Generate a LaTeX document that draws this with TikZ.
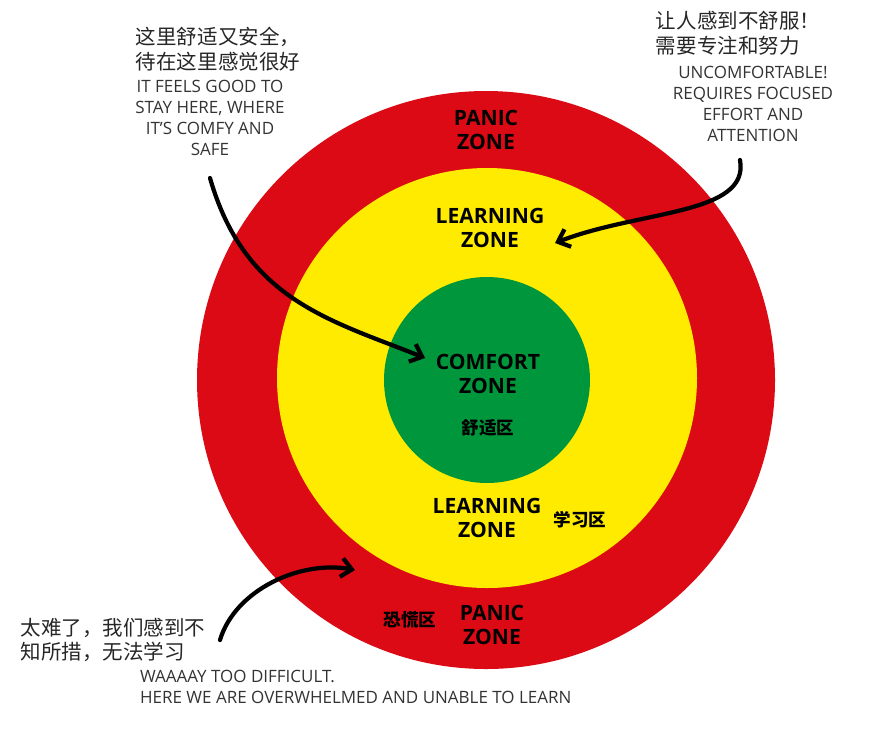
\documentclass[tikz,border=0pt]{standalone}
\usepackage{fontspec}
\setmainfont{Open Sans}
\newfontfamily\cjk{Noto Sans CJK SC}
\usetikzlibrary{arrows.meta}
\tikzset{>={Straight Barb[length=9pt,width=16pt]}}
\definecolor{panicred}{RGB}{220,10,20}
\definecolor{learnyellow}{RGB}{255,235,0}
\definecolor{comfortgreen}{RGB}{0,150,60}
\tikzset{
  zonelabel/.style={font=\fontsize{18}{20}\selectfont\bfseries,align=center,text=black},
  cjklabel/.style={font=\cjk\bfseries\fontsize{15}{17}\selectfont},
  note/.style={font=\fontsize{14.5}{18}\selectfont,align=center,text=black!80},
  cjknote/.style={font=\cjk\fontsize{17.5}{21}\selectfont,text=black!85},
  bentarrow/.style={->,line width=3.6pt,line cap=round}
}
\begin{document}
\begin{tikzpicture}[x=0.03cm,y=-0.03cm]
  \useasboundingbox (0,0) rectangle (873,751);
  % zones
  \fill[panicred] (486,380) circle (289);
  \fill[learnyellow] (487,378) circle (210);
  \fill[comfortgreen] (487,380) circle (103);
  % zone labels
  \node[zonelabel] (panic1) at (486,130) {PANIC\\ZONE};
  \node[zonelabel] (learn1) at (490,228) {LEARNING\\ZONE};
  \node[zonelabel] (comfort) at (488,374) {COMFORT\\ZONE};
  \node[cjklabel] (comfortcn) at (488,428) {舒适区};
  \node[zonelabel] (learn2) at (487,518) {LEARNING\\ZONE};
  \node[cjklabel] (learncn) at (580,520) {学习区};
  \node[zonelabel] (panic2) at (492,625) {PANIC\\ZONE};
  \node[cjklabel] (paniccn) at (410,620) {恐慌区};
  % notes
  \node[cjknote,align=left] (comfortzh) at (218,49) {这里舒适又安全，\\待在这里感觉很好};
  \node[note,anchor=north] (comforten) at (210,76) {IT FEELS GOOD TO\\STAY HERE, WHERE\\IT’S COMFY AND\\SAFE};
  \node[cjknote,align=left] (learnzh) at (738,33) {让人感到不舒服！\\需要专注和努力};
  \node[note,anchor=north] (learnen) at (753,62) {UNCOMFORTABLE!\\REQUIRES FOCUSED\\EFFORT AND\\ATTENTION};
  \node[cjknote,align=left] (paniczh) at (113,640) {太难了，我们感到不\\知所措，无法学习};
  \node[note,align=left,anchor=north west] (panicen) at (136,666) {WAAAAY TOO DIFFICULT.\\HERE WE ARE OVERWHELMED AND UNABLE TO LEARN};
  % arrows
  \coordinate (a1) at (210,178);
  \coordinate (b1) at (425,358);
  \coordinate (a2) at (740,160);
  \coordinate (b2) at (555,243);
  \coordinate (a3) at (220,640);
  \coordinate (b3) at (355,570);
  \draw[bentarrow] (a1) .. controls (245,300) and (330,320) .. (b1);
  \draw[bentarrow] (a2) .. controls (750,215) and (640,210) .. (b2);
  \draw[bentarrow] (a3) .. controls (235,590) and (300,560) .. (b3);
\end{tikzpicture}
\end{document}
